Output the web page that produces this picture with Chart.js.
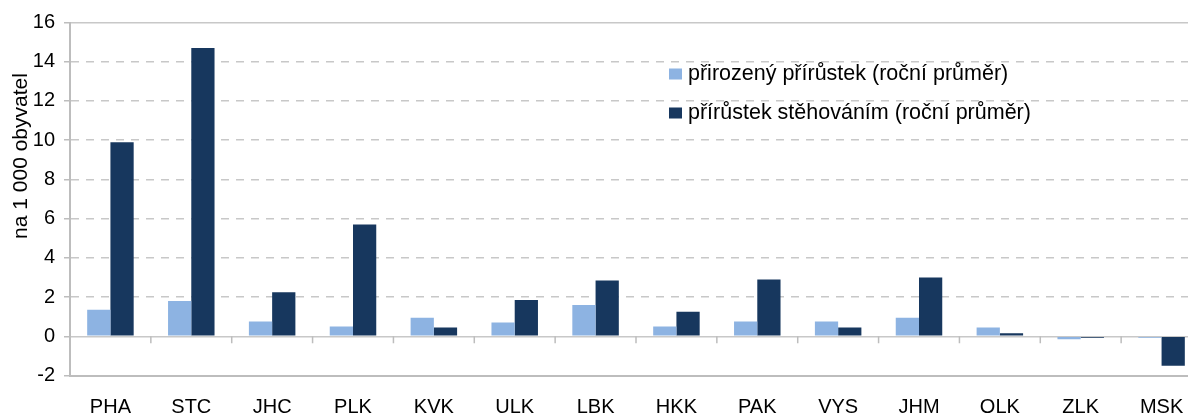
<!DOCTYPE html>
<html>
<head>
<meta charset="utf-8">
<script src="https://cdn.jsdelivr.net/npm/chart.js@4.4.1/dist/chart.umd.min.js"></script>
<style>
  html, body { margin: 0; padding: 0; background: #fff; overflow: hidden; }
  #wrap { position: absolute; left: 0; top: 0; width: 1210px; height: 420px; }
</style>
</head>
<body>
<div id="wrap"><canvas id="growthChart"></canvas></div>
<script>
// kraje
const regions = ["PHA", "STC", "JHC", "PLK", "KVK", "ULK", "LBK", "HKK", "PAK", "VYS", "JHM", "OLK", "ZLK", "MSK"];
// na 1 000 obyvatel
const naturalGrowth = [1.35, 1.8, 0.75, 0.5, 0.95, 0.7, 1.6, 0.5, 0.75, 0.75, 0.95, 0.45, -0.15, -0.08];
const migrationGrowth = [9.9, 14.7, 2.25, 5.7, 0.45, 1.85, 2.85, 1.25, 2.9, 0.45, 3.0, 0.15, -0.08, -1.5];
const seriesLabels = ["přirozený přírůstek (roční průměr)", "přírůstek stěhováním (roční průměr)"];
const yTicks = [-2, 0, 2, 4, 6, 8, 10, 12, 14, 16];
const yTitle = "na 1 000 obyvatel";

const FONT = "'Liberation Sans', Arial, sans-serif";
const GRID = "#c8c8c8";
const AXIS = "#bdbdbd";

// short tick marks hanging under the zero line between categories
const zeroTicks = {
  id: "zeroTicks",
  afterDatasetsDraw(chart) {
    const x = chart.scales.x, y = chart.scales.y;
    const y0 = y.getPixelForValue(0);
    const ctx = chart.ctx;
    ctx.save();
    ctx.strokeStyle = AXIS;
    ctx.lineWidth = 1.5;
    ctx.beginPath();
    for (let i = 1; i < regions.length; i++) {
      const px = (x.getPixelForValue(i - 1) + x.getPixelForValue(i)) / 2;
      ctx.moveTo(px, y0);
      ctx.lineTo(px, y0 + 7);
    }
    ctx.stroke();
    ctx.restore();
  }
};

// legend inside the plot + y title
const sideTexts = {
  id: "sideTexts",
  afterDraw(chart) {
    const ctx = chart.ctx;
    const area = chart.chartArea;
    ctx.save();
    ctx.font = "21.5px " + FONT;
    ctx.textBaseline = "middle";
    ctx.textAlign = "left";
    chart.data.datasets.forEach((ds, i) => {
      const top = area.top + 46 + i * 39;
      ctx.fillStyle = ds.backgroundColor;
      ctx.fillRect(area.left + 599, top, 13, 11);
      ctx.fillStyle = "#000";
      ctx.fillText(ds.label, area.left + 618, top + 6);
    });
    ctx.translate(21, 156);
    ctx.rotate(-Math.PI / 2);
    ctx.textAlign = "center";
    ctx.font = "21px " + FONT;
    ctx.fillText(yTitle, 0, 0);
    ctx.restore();
  }
};

const ctx = document.getElementById("growthChart").getContext("2d");
new Chart(ctx, {
  type: "bar",
  data: {
    labels: regions,
    datasets: [
      {
        label: seriesLabels[0],
        data: naturalGrowth,
        backgroundColor: "#8db3e2",
        categoryPercentage: 0.575,
        barPercentage: 1
      },
      {
        label: seriesLabels[1],
        data: migrationGrowth,
        backgroundColor: "#17375e",
        categoryPercentage: 0.575,
        barPercentage: 1
      }
    ]
  },
  options: {
    responsive: true,
    maintainAspectRatio: false,
    animation: false,
    layout: { padding: { top: 22.5, right: 8, left: 0, bottom: 0 } },
    plugins: {
      legend: { display: false },
      tooltip: { enabled: false }
    },
    scales: {
      x: {
        grid: { display: false },
        border: { display: true, color: AXIS, width: 2 },
        ticks: { color: "#000", font: { family: FONT, size: 20 }, padding: 12 },
        afterFit(s) { s.height = 44.5; }
      },
      y: {
        min: -2,
        max: 16,
        afterBuildTicks(s) { s.ticks = yTicks.map(v => ({ value: v })); },
        grid: {
          color: GRID,
          lineWidth: 1.5,
          drawTicks: true,
          tickLength: 6,
          tickColor: AXIS,
          tickWidth: 1.5,
          tickBorderDash: []
        },
        border: {
          display: true,
          color: AXIS,
          width: 2,
          dash: c => {
            if (c.type !== "tick") return [];
            const v = c.tick.value;
            return (v === 0 || v === 16 || v === -2) ? [] : [8, 7];
          }
        },
        ticks: { color: "#000", font: { family: FONT, size: 20 }, padding: 9 },
        afterFit(s) { s.width = 70; }
      }
    }
  },
  plugins: [zeroTicks, sideTexts]
});
</script>
</body>
</html>
